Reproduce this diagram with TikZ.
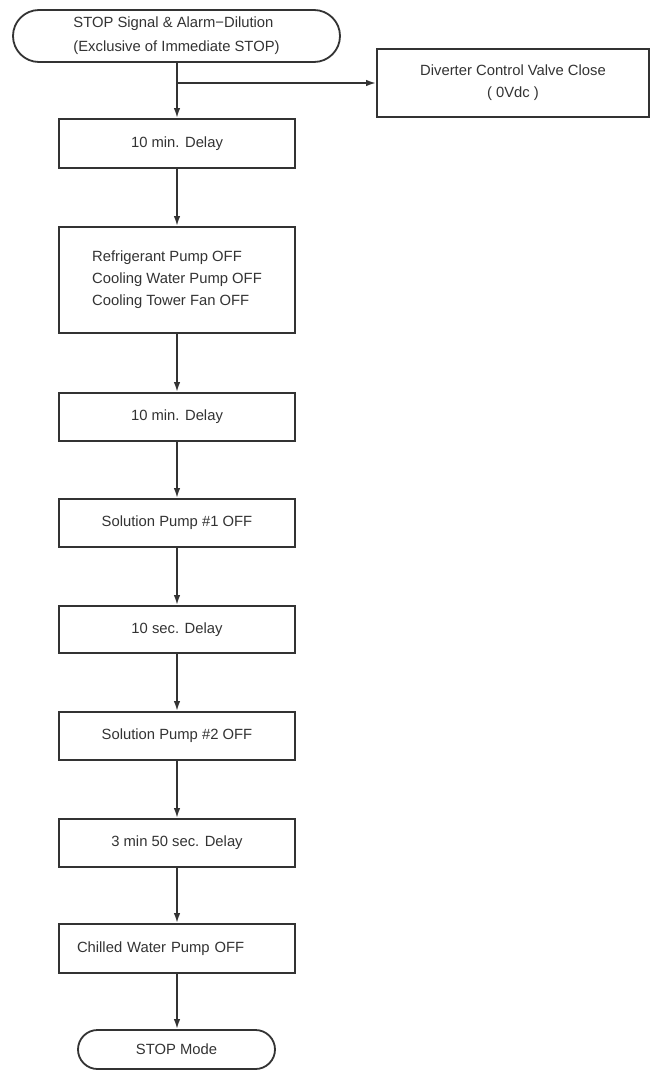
\documentclass[tikz,border=0pt]{standalone}
\usepackage{fontspec}
\setmainfont{Liberation Sans}
\usetikzlibrary{arrows.meta}
\definecolor{ink}{HTML}{333333}
\begin{document}
\begin{tikzpicture}[x=1pt,y=-1pt,
  every node/.style={font=\fontsize{14.8}{22}\selectfont, text=ink},
  box/.style={draw=ink, line width=1.8pt, rectangle, minimum width=236pt, inner sep=0pt, align=center},
  term/.style={draw=ink, line width=1.8pt, rectangle, inner sep=0pt, align=center},
  flow/.style={draw=ink, line width=1.8pt, -{Latex[length=10pt,width=6.5pt]}}
]
\useasboundingbox (0,0) rectangle (650,1071);
\fill[white] (0,0) rectangle (650,1071);

\node[term, minimum width=327pt, minimum height=52pt, rounded corners=26pt,
      font=\fontsize{14.8}{24}\selectfont, align=left] (start) at (176.5,36)
  {STOP Signal \& Alarm−Dilution\\(Exclusive of Immediate STOP)};

\node[box, minimum width=272pt, minimum height=68pt] (div) at (513,83)
  {Diverter Control Valve Close\\( 0Vdc )};

\node[box, minimum height=49pt] (b1) at (177,143.5) {10 min. Delay};
\node[box, minimum height=106pt, align=left] (b2) at (177,280)
  {Refrigerant Pump OFF\\Cooling Water Pump OFF\\Cooling Tower Fan OFF};
\node[box, minimum height=48pt] (b3) at (177,417) {10 min. Delay};
\node[box, minimum height=48pt] (b4) at (177,523) {Solution Pump \#1 OFF};
\node[box, minimum height=47pt] (b5) at (177,629.5) {10 sec. Delay};
\node[box, minimum height=48pt] (b6) at (177,736) {Solution Pump \#2 OFF};
\node[box, minimum height=48pt] (b7) at (177,843) {3 min 50 sec. Delay};
\node[box, minimum height=49pt, text width=200pt, inner xsep=18pt, align=left] (b8) at (177,948.5)
  {Chilled Water Pump OFF};
\node[term, minimum width=197pt, minimum height=39pt, rounded corners=19.5pt] (end) at (176.5,1049.5)
  {STOP Mode};

\coordinate (br) at (177,83);
\draw[flow] (start.south -| b1.north) -- (b1.north);
\draw[flow] (br) -- (div.west);
\draw[flow] (b1) -- (b2);
\draw[flow] (b2) -- (b3);
\draw[flow] (b3) -- (b4);
\draw[flow] (b4) -- (b5);
\draw[flow] (b5) -- (b6);
\draw[flow] (b6) -- (b7);
\draw[flow] (b7) -- (b8);
\draw[flow] (b8.south) -- (b8.south |- end.north);
\end{tikzpicture}
\end{document}
